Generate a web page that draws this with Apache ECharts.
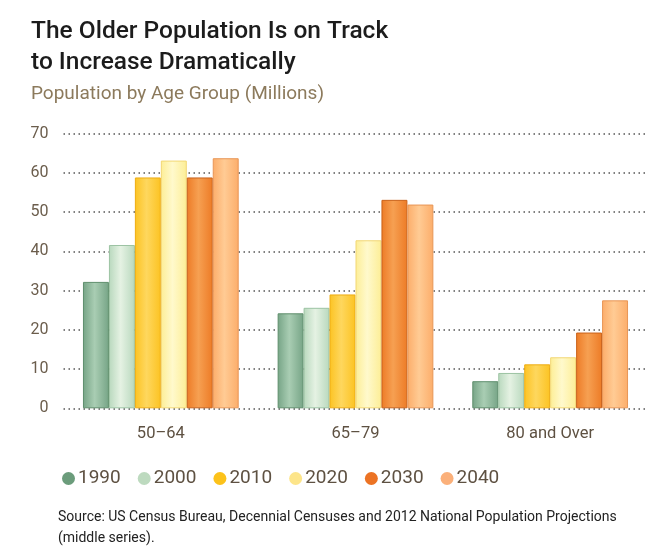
<!DOCTYPE html>
<html>
<head>
<meta charset="utf-8">
<script src="https://cdn.jsdelivr.net/npm/echarts@6/dist/echarts.min.js"></script>
<style>
html,body{margin:0;padding:0;background:#fff;}
#chart{width:670px;height:553px;}
</style>
</head>
<body>
<div id="chart"></div>
<script>
const categories = ['50\u201364', '65\u201379', '80 and Over'];
const years = ['1990', '2000', '2010', '2020', '2030', '2040'];
const v1990 = [32.2, 24.2, 6.9];
const v2000 = [41.6, 25.6, 9.0];
const v2010 = [58.8, 29.0, 11.2];
const v2020 = [63.1, 42.8, 13.0];
const v2030 = [58.8, 53.1, 19.3];
const v2040 = [63.7, 51.9, 27.5];
const yTicks = [0, 10, 20, 30, 40, 50, 60, 70];

const values = [v1990, v2000, v2010, v2020, v2030, v2040];
const styles = [
  {edge:'#76a486', mid:'#a9cdb3', border:'#5e8e6c', legend:'#6b9c7b'},
  {edge:'#b8d8bd', mid:'#e5f2e3', border:'#9cc3a3', legend:'#bddabf'},
  {edge:'#fcc322', mid:'#fed75e', border:'#eeac12', legend:'#fcc21a'},
  {edge:'#fdee96', mid:'#fff9cc', border:'#f2d774', legend:'#fde58a'},
  {edge:'#ed7b26', mid:'#f6a052', border:'#c9621a', legend:'#ec7324'},
  {edge:'#fcad6a', mid:'#ffcb94', border:'#e89656', legend:'#fbb07a'}
];

const series = years.map((y, i) => ({
  name: y,
  type: 'bar',
  data: values[i],
  barGap: '0%',
  barCategoryGap: '20%',
  itemStyle: {
    color: new echarts.graphic.LinearGradient(0, 0, 1, 0, [
      {offset: 0, color: styles[i].edge},
      {offset: 0.45, color: styles[i].mid},
      {offset: 1, color: styles[i].edge}
    ]),
    borderColor: styles[i].border,
    borderWidth: 1
  }
}));

const chart = echarts.init(document.getElementById('chart'));
chart.setOption({
  backgroundColor: '#fff',
  animation: false,
  textStyle: {fontFamily: 'Roboto'},
  title: [
    {
      text: 'The Older Population Is on Track\nto Increase Dramatically',
      left: 26, top: 11,
      textStyle: {fontSize: 24.5, fontWeight: 500, color: '#1c1c1c', lineHeight: 31, fontFamily: 'Roboto'}
    },
    {
      text: 'Population by Age Group (Millions)',
      left: 26, top: 80,
      textStyle: {fontSize: 19, fontWeight: 'normal', color: '#8c7a5c', fontFamily: 'Roboto'}
    },
    {
      text: 'Source: US Census Bureau, Decennial Censuses and 2012 National Population Projections\n(middle series).',
      left: 53, top: 502,
      textStyle: {fontSize: 14, fontWeight: 'normal', color: '#222', lineHeight: 21, fontFamily: 'Roboto'}
    }
  ],
  legend: {
    left: 57, top: 464,
    icon: 'circle',
    itemWidth: 13, itemHeight: 13,
    itemGap: 17,
    textStyle: {fontSize: 19, color: '#5e5142', padding: [0, 0, 0, -2]},
    data: years.map((y, i) => ({name: y, itemStyle: {color: styles[i].legend, borderWidth: 0}}))
  },
  grid: {left: 63.5, right: 22.5, top: 133.5, bottom: 144.7},
  xAxis: {
    type: 'category',
    data: categories,
    axisLine: {show: false},
    axisTick: {show: false},
    axisLabel: {fontSize: 16.5, color: '#5e5142', margin: 17}
  },
  yAxis: {
    type: 'value',
    min: yTicks[0], max: yTicks[yTicks.length - 1], interval: 10,
    axisLine: {show: false},
    axisTick: {show: false},
    axisLabel: {fontSize: 16, color: '#6b5d4c', margin: 15},
    splitLine: {lineStyle: {color: '#555', width: 1.5, type: [1.5, 3.5]}}
  },
  series: series
});
</script>
</body>
</html>
